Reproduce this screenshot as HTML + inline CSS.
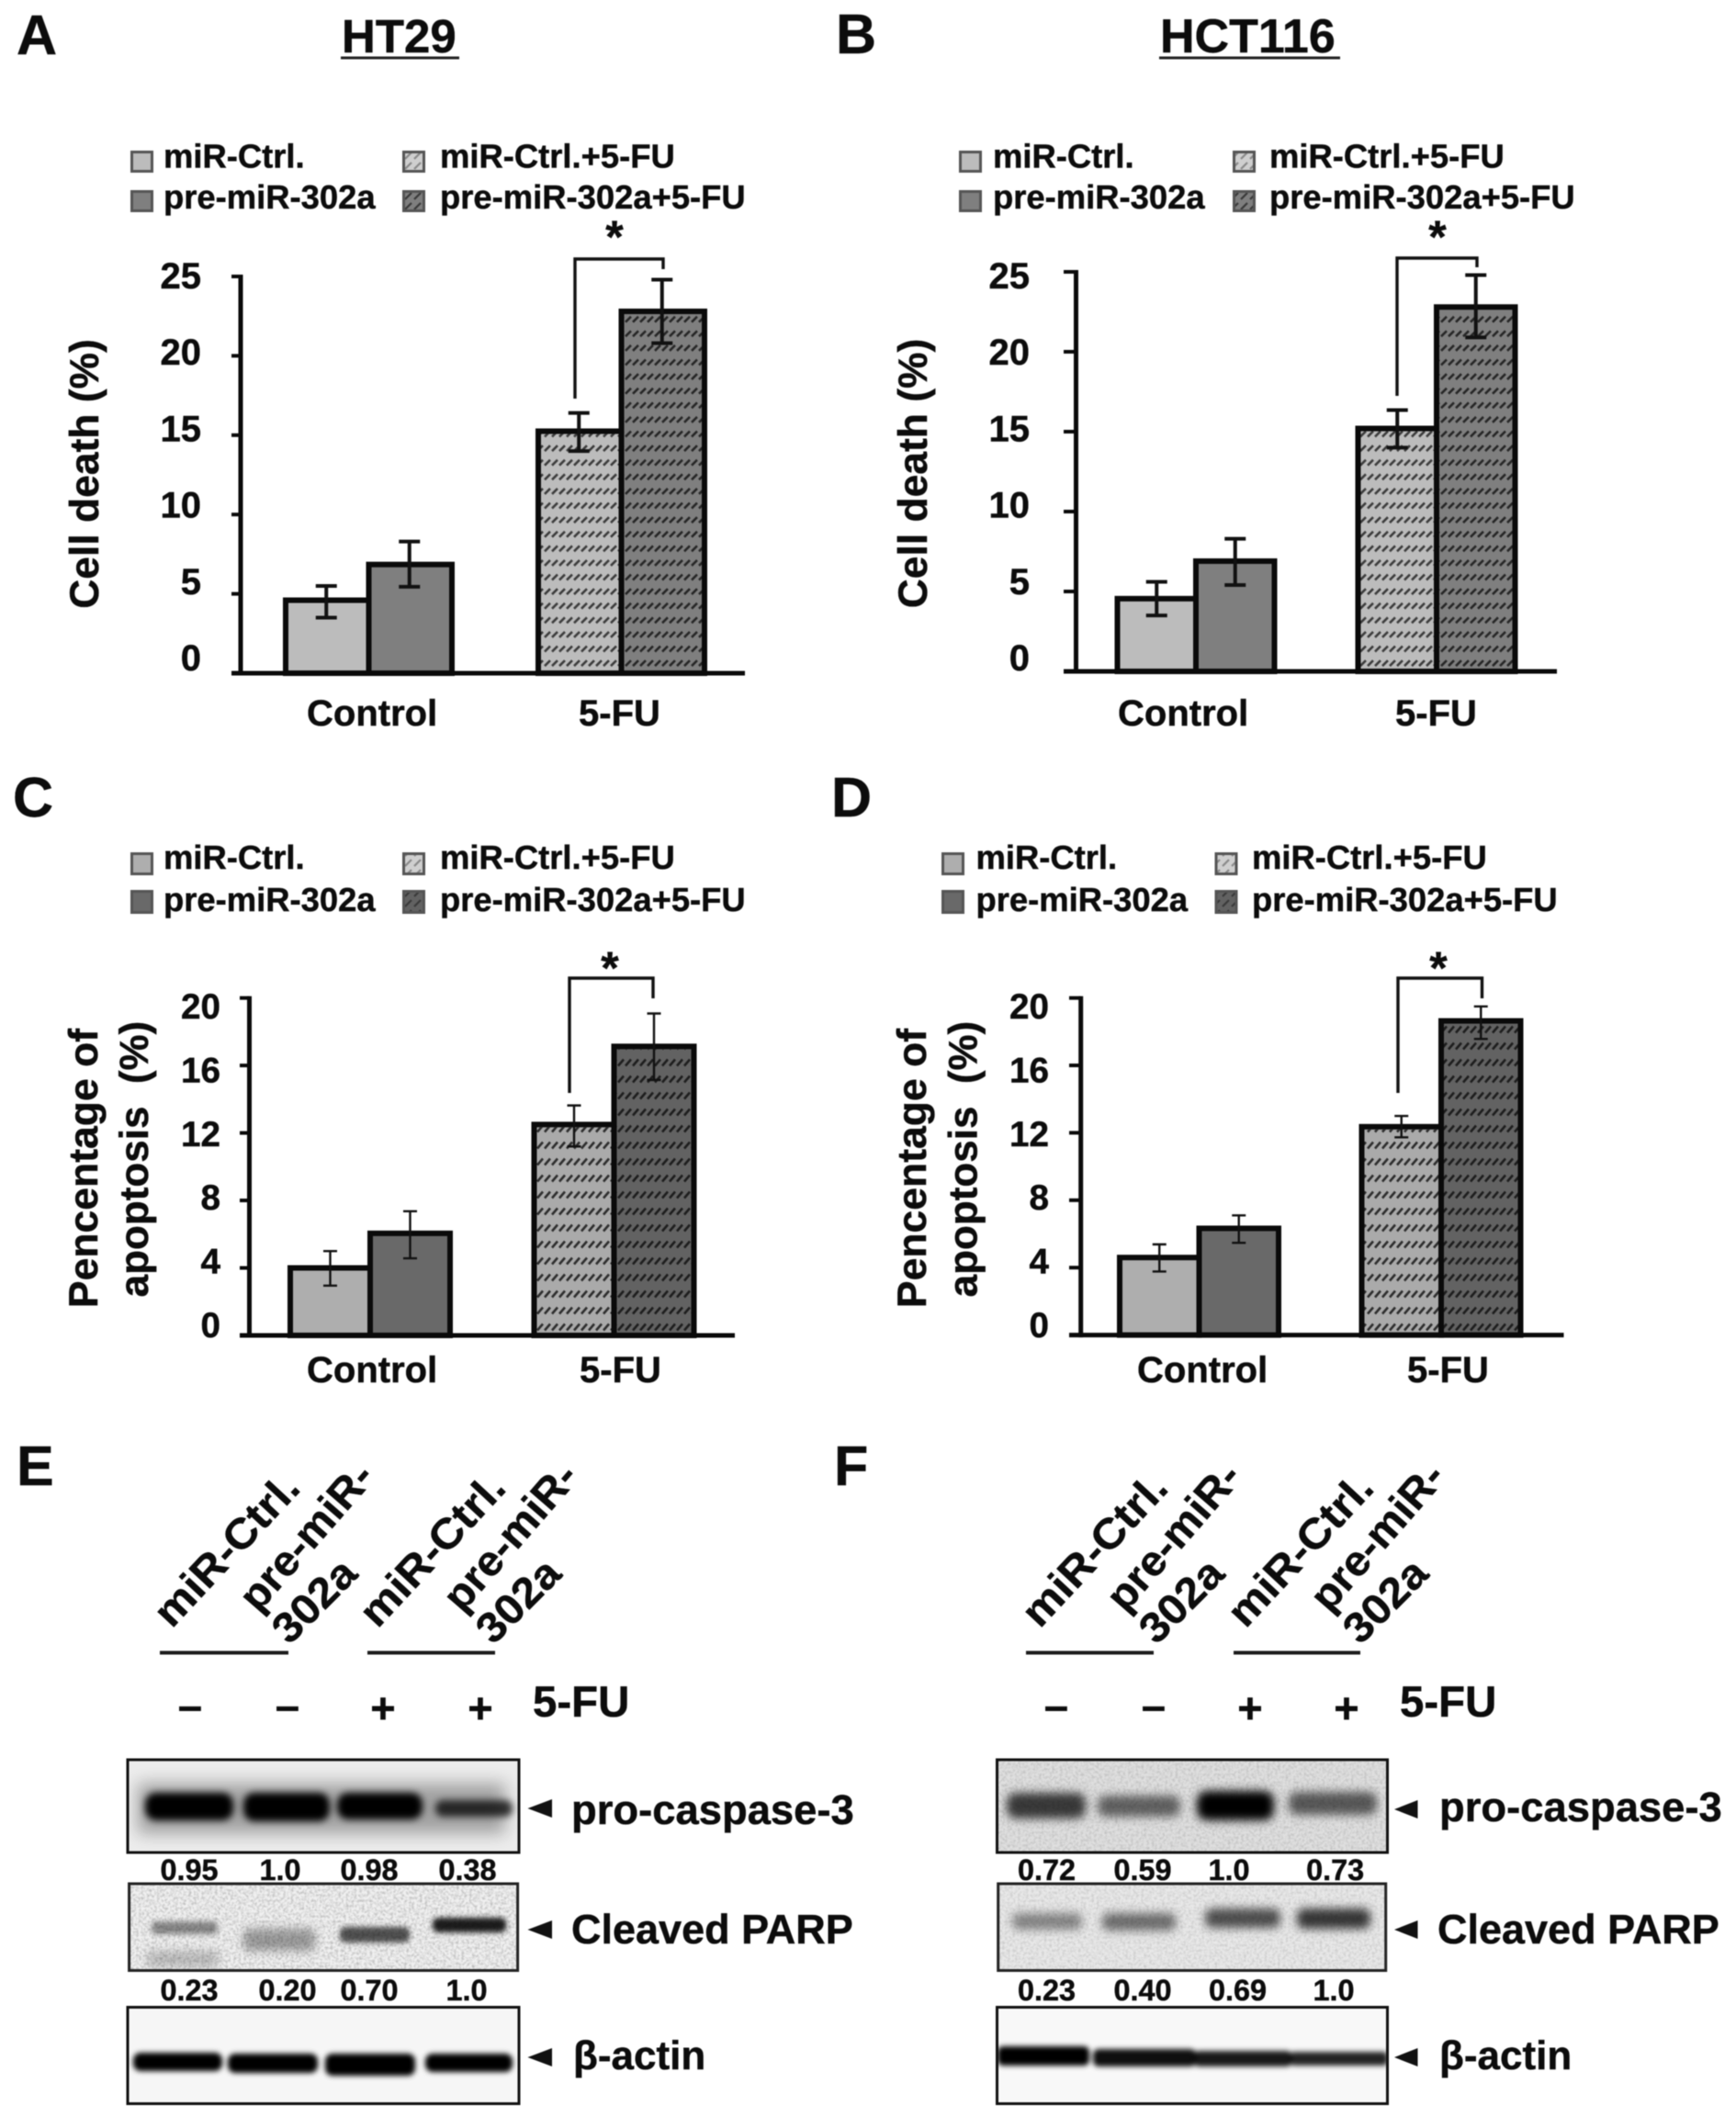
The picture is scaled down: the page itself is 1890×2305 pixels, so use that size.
<!DOCTYPE html>
<html lang="en">
<head>
<meta charset="utf-8">
<title>miR-302a cell death, apoptosis and western blot figure</title>
<style>
html,body{margin:0;padding:0;background:#fff;width:1890px;height:2305px;overflow:hidden}
svg{display:block;filter:blur(.6px)}
text{font-family:"Liberation Sans",sans-serif;font-weight:700;fill:#0c0c0c;stroke:#0c0c0c;stroke-width:.45px;text-rendering:geometricPrecision}
.w{font-size:32.4px;text-anchor:middle}
.lbl{font-size:46px}
.sign{font-size:47px;text-anchor:middle}
</style>
</head>
<body>
<svg id="fig" xmlns="http://www.w3.org/2000/svg" width="1890" height="2305" viewBox="0 0 1890 2305">
<defs>
  <pattern id="hatchLight" width="16" height="15.6" patternUnits="userSpaceOnUse"><path d="M1 7.5L7 1.5M9 7.5L15 1.5" stroke="#3c3c3c" stroke-width="2.6" fill="none"/></pattern>
  <pattern id="hatchDark" width="16" height="15.6" patternUnits="userSpaceOnUse"><path d="M1 7.5L7 1.5M9 7.5L15 1.5" stroke="#262626" stroke-width="2.6" fill="none"/></pattern>
  <pattern id="hatchLightTall" width="16" height="18" patternUnits="userSpaceOnUse"><path d="M1 8.5L7 1.5M9 8.5L15 1.5" stroke="#2e2e2e" stroke-width="2.6" fill="none"/></pattern>
  <pattern id="hatchDarkTall" width="16" height="18" patternUnits="userSpaceOnUse"><path d="M1 8.5L7 1.5M9 8.5L15 1.5" stroke="#1e1e1e" stroke-width="2.6" fill="none"/></pattern>
  <pattern id="hatchLegendLight" width="10" height="11" patternUnits="userSpaceOnUse"><path d="M1 8L8 1" stroke="#8a8a8a" stroke-width="2.2" fill="none"/></pattern>
  <pattern id="hatchLegendDark" width="10" height="11" patternUnits="userSpaceOnUse"><path d="M1 8L8 1" stroke="#3a3a3a" stroke-width="2.2" fill="none"/></pattern>
  <filter id="b9" x="-40%" y="-200%" width="180%" height="500%"><feGaussianBlur stdDeviation="9"/></filter>
  <filter id="b5" x="-30%" y="-150%" width="160%" height="400%"><feGaussianBlur stdDeviation="5"/></filter>
  <filter id="b4" x="-30%" y="-150%" width="160%" height="400%"><feGaussianBlur stdDeviation="4"/></filter>
  <filter id="b3" x="-30%" y="-150%" width="160%" height="400%"><feGaussianBlur stdDeviation="3"/></filter>
  <filter id="noise" x="0" y="0" width="100%" height="100%"><feTurbulence type="fractalNoise" baseFrequency="0.35" numOctaves="2" seed="4"/><feColorMatrix values="0 0 0 0 0  0 0 0 0 0  0 0 0 0 0  0 0 0 1.3 -.5"/></filter>
  <clipPath id="cE1"><rect x="139" y="1916" width="426" height="101"/></clipPath>
  <clipPath id="cE2"><rect x="140.6" y="2051" width="423" height="94.5"/></clipPath>
  <clipPath id="cE3"><rect x="139" y="2185.5" width="426" height="105"/></clipPath>
  <clipPath id="cF1"><rect x="1085.5" y="1916" width="425" height="101"/></clipPath>
  <clipPath id="cF2"><rect x="1086.7" y="2051" width="422" height="94.5"/></clipPath>
  <clipPath id="cF3"><rect x="1085.5" y="2185.5" width="425" height="105"/></clipPath>
</defs>

<text x="18" y="59" font-size="61">A</text>
<text x="910" y="58" font-size="61">B</text>
<text x="14" y="889" font-size="61">C</text>
<text x="905" y="889" font-size="61">D</text>
<text x="18" y="1617" font-size="61">E</text>
<text x="908" y="1617" font-size="61">F</text>

<text x="372" y="57" font-size="51">HT29</text>
<rect x="371" y="61.5" width="129" height="3" fill="#222"/>
<text x="1263" y="57" font-size="52">HCT116</text>
<rect x="1262" y="61.5" width="197" height="3" fill="#222"/>

<g id="charts"></g>

<!-- Panel E western blot -->
<g>
  <g>
    <text class="lbl" transform="translate(187 1774) rotate(-47)" textLength="208" lengthAdjust="spacingAndGlyphs">miR-Ctrl.</text>
    <text class="lbl" transform="translate(281 1757) rotate(-49)" textLength="196" lengthAdjust="spacingAndGlyphs">pre-miR-</text>
    <text class="lbl" transform="translate(315 1792) rotate(-45)" textLength="108" lengthAdjust="spacingAndGlyphs">302a</text>
    <text class="lbl" transform="translate(411 1774) rotate(-47)" textLength="208" lengthAdjust="spacingAndGlyphs">miR-Ctrl.</text>
    <text class="lbl" transform="translate(503 1757) rotate(-49)" textLength="196" lengthAdjust="spacingAndGlyphs">pre-miR-</text>
    <text class="lbl" transform="translate(537 1792) rotate(-45)" textLength="108" lengthAdjust="spacingAndGlyphs">302a</text>
  </g>
  <rect x="174" y="1797.5" width="140" height="4" fill="#1c1c1c"/>
  <rect x="400" y="1797.5" width="139" height="4" fill="#1c1c1c"/>
  <text class="sign" x="207" y="1873">–</text>
  <text class="sign" x="313" y="1873">–</text>
  <text class="sign" x="417" y="1876">+</text>
  <text class="sign" x="523" y="1876">+</text>
  <text x="580" y="1869" font-size="47.4">5-FU</text>

  <g>
    <rect x="139" y="1916" width="426" height="101" fill="#ececec"/>
    <g clip-path="url(#cE1)">
      <g filter="url(#b9)" fill="#000" opacity=".32">
        <rect x="150" y="1942" width="400" height="54"/>
      </g>
      <g filter="url(#b4)" fill="#000">
        <rect x="158" y="1952" width="96" height="30" rx="12"/>
        <rect x="265" y="1952" width="94" height="31" rx="12"/>
        <rect x="367" y="1952" width="93" height="29" rx="12"/>
        <rect x="474" y="1960" width="84" height="18" rx="8" opacity=".76"/>
      </g>
    </g>
    <rect x="139" y="1916" width="426" height="101" fill="none" stroke="#111" stroke-width="3"/>
  </g>
  <text class="w" x="206" y="2047">0.95</text><text class="w" x="305" y="2047">1.0</text><text class="w" x="402" y="2047">0.98</text><text class="w" x="509" y="2047">0.38</text>

  <g>
    <rect x="140.6" y="2051" width="423" height="94.5" fill="#f0f0f0"/>
    <rect x="140.6" y="2051" width="423" height="94.5" filter="url(#noise)" opacity=".35"/>
    <g clip-path="url(#cE2)" fill="#000">
      <rect x="165" y="2092" width="72" height="14" rx="5" opacity=".42" filter="url(#b3)"/>
      <rect x="160" y="2124" width="78" height="18" rx="5" opacity=".2" filter="url(#b5)"/>
      <rect x="265" y="2100" width="78" height="24" rx="6" opacity=".34" filter="url(#b5)"/>
      <rect x="370" y="2098" width="76" height="17" rx="6" opacity=".66" filter="url(#b3)"/>
      <rect x="471" y="2088" width="80" height="16" rx="6" opacity=".88" filter="url(#b3)"/>
    </g>
    <rect x="140.6" y="2051" width="423" height="94.5" fill="none" stroke="#222" stroke-width="3"/>
  </g>
  <text class="w" x="206" y="2178">0.23</text><text class="w" x="313" y="2178">0.20</text><text class="w" x="402" y="2178">0.70</text><text class="w" x="508" y="2178">1.0</text>

  <g>
    <rect x="139" y="2185.5" width="426" height="105" fill="#f6f6f6"/>
    <g clip-path="url(#cE3)" filter="url(#b3)" fill="#000">
      <rect x="145" y="2235" width="97" height="20" rx="8"/>
      <rect x="248" y="2236" width="98" height="21" rx="8"/>
      <rect x="354" y="2236" width="98" height="24" rx="8"/>
      <rect x="463" y="2236" width="95" height="20" rx="8"/>
    </g>
    <rect x="139" y="2185.5" width="426" height="105" fill="none" stroke="#111" stroke-width="3"/>
  </g>

  <path d="M574.5 1969L601 1959V1979Z" fill="#111"/>
  <path d="M574.5 2101L601 2091V2111Z" fill="#111"/>
  <path d="M574.5 2240L601 2230V2250Z" fill="#111"/>
  <text x="622" y="1986" font-size="45.4">pro-caspase-3</text>
  <text x="622" y="2116" font-size="45">Cleaved PARP</text>
  <text x="624" y="2253" font-size="44">β-actin</text>
</g>

<!-- Panel F western blot -->
<g>
  <g>
    <text class="lbl" transform="translate(1132 1774) rotate(-47)" textLength="208" lengthAdjust="spacingAndGlyphs">miR-Ctrl.</text>
    <text class="lbl" transform="translate(1225 1757) rotate(-49)" textLength="196" lengthAdjust="spacingAndGlyphs">pre-miR-</text>
    <text class="lbl" transform="translate(1259 1792) rotate(-45)" textLength="108" lengthAdjust="spacingAndGlyphs">302a</text>
    <text class="lbl" transform="translate(1356 1774) rotate(-47)" textLength="208" lengthAdjust="spacingAndGlyphs">miR-Ctrl.</text>
    <text class="lbl" transform="translate(1447 1757) rotate(-49)" textLength="196" lengthAdjust="spacingAndGlyphs">pre-miR-</text>
    <text class="lbl" transform="translate(1481 1792) rotate(-45)" textLength="108" lengthAdjust="spacingAndGlyphs">302a</text>
  </g>
  <rect x="1117" y="1797.5" width="139" height="4" fill="#1c1c1c"/>
  <rect x="1343" y="1797.5" width="138" height="4" fill="#1c1c1c"/>
  <text class="sign" x="1150" y="1873">–</text>
  <text class="sign" x="1256" y="1873">–</text>
  <text class="sign" x="1361" y="1876">+</text>
  <text class="sign" x="1466" y="1876">+</text>
  <text x="1524" y="1869" font-size="47.4">5-FU</text>

  <g>
    <rect x="1085.5" y="1916" width="425" height="101" fill="#dfdfdf"/>
    <rect x="1085.5" y="1916" width="425" height="101" filter="url(#noise)" opacity=".22"/>
    <g clip-path="url(#cF1)" filter="url(#b5)" fill="#000">
      <rect x="1096" y="1952" width="86" height="28" rx="10" opacity=".74"/>
      <rect x="1195" y="1955" width="90" height="23" rx="9" opacity=".56"/>
      <rect x="1303" y="1950" width="84" height="32" rx="11"/>
      <rect x="1403" y="1951" width="96" height="25" rx="9" opacity=".6"/>
    </g>
    <rect x="1085.5" y="1916" width="425" height="101" fill="none" stroke="#111" stroke-width="3"/>
  </g>
  <text class="w" x="1139.5" y="2047">0.72</text><text class="w" x="1244" y="2047">0.59</text><text class="w" x="1338" y="2047">1.0</text><text class="w" x="1453.6" y="2047">0.73</text>

  <g>
    <rect x="1086.7" y="2051" width="422" height="94.5" fill="#e8e8e8"/>
    <rect x="1086.7" y="2051" width="422" height="94.5" filter="url(#noise)" opacity=".2"/>
    <g clip-path="url(#cF2)" filter="url(#b5)" fill="#000">
      <rect x="1102" y="2083" width="76" height="18" rx="7" opacity=".42"/>
      <rect x="1200" y="2083" width="80" height="19" rx="7" opacity=".52"/>
      <rect x="1312" y="2078" width="82" height="21" rx="8" opacity=".66"/>
      <rect x="1412" y="2078" width="80" height="22" rx="8" opacity=".76"/>
    </g>
    <rect x="1086.7" y="2051" width="422" height="94.5" fill="none" stroke="#222" stroke-width="3"/>
  </g>
  <text class="w" x="1139.5" y="2178">0.23</text><text class="w" x="1244" y="2178">0.40</text><text class="w" x="1347.5" y="2178">0.69</text><text class="w" x="1452" y="2178">1.0</text>

  <g>
    <rect x="1085.5" y="2185.5" width="425" height="105" fill="#f8f8f8"/>
    <g clip-path="url(#cF3)" filter="url(#b3)" fill="#000">
      <rect x="1086" y="2228" width="100" height="21" rx="6"/>
      <rect x="1190" y="2231" width="112" height="19" rx="6" opacity=".94"/>
      <rect x="1300" y="2233" width="106" height="17" rx="5" opacity=".9"/>
      <rect x="1404" y="2234" width="107" height="15" rx="5" opacity=".86"/>
    </g>
    <rect x="1085.5" y="2185.5" width="425" height="105" fill="none" stroke="#111" stroke-width="3"/>
  </g>

  <path d="M1518 1970L1543.5 1960V1980Z" fill="#111"/>
  <path d="M1518 2101L1543.5 2091V2111Z" fill="#111"/>
  <path d="M1518 2240L1543.5 2230V2250Z" fill="#111"/>
  <text x="1567" y="1983" font-size="45.4">pro-caspase-3</text>
  <text x="1565" y="2116" font-size="45">Cleaved PARP</text>
  <text x="1567" y="2253" font-size="44">β-actin</text>
</g>
</svg>

<script>
const categories = ['Control', '5-FU'];
const seriesNames = ['miR-Ctrl.', 'pre-miR-302a', 'miR-Ctrl.+5-FU', 'pre-miR-302a+5-FU'];

const cellDeathTicks = [0, 5, 10, 15, 20, 25];
const apoptosisTicks = [0, 4, 8, 12, 16, 20];

const panelAValues = [4.6, 6.85, 15.25, 22.8];
const panelAErrHigh = [5.5, 8.3, 16.4, 24.8];
const panelAErrLow = [3.5, 5.45, 14.0, 20.8];

const panelBValues = [4.55, 6.9, 15.2, 22.8];
const panelBErrHigh = [5.6, 8.3, 16.35, 24.8];
const panelBErrLow = [3.5, 5.4, 14.0, 20.9];

const panelCValues = [4.0, 6.05, 12.5, 17.13];
const panelCErrHigh = [5.0, 7.36, 13.63, 19.08];
const panelCErrLow = [2.95, 4.57, 11.2, 15.14];

const panelDValues = [4.6, 6.33, 12.36, 18.64];
const panelDErrHigh = [5.38, 7.1, 13.0, 19.5];
const panelDErrLow = [3.77, 5.47, 11.73, 17.57];

const NS = 'http://www.w3.org/2000/svg';
const chartsRoot = document.getElementById('charts');

function mk(tag, parent, attrs) {
  const el = document.createElementNS(NS, tag);
  for (const k in attrs) el.setAttribute(k, attrs[k]);
  parent.appendChild(el);
  return el;
}

function drawPanel(p) {
  const g = mk('g', chartsRoot, {});
  
  

  const maxV = p.ticks[p.ticks.length - 1];
  const yScale = v => p.base - v * (p.base - p.top) / maxV;
  const xScale = (group, series) => p.start + group * p.step + series * p.barW;
  const labelY = v => p.labelBase - v * p.labelStep;

  // legend
  seriesNames.forEach((name, i) => {
    const col = i >> 1, row = i & 1;
    const sw = mk('rect', g, {
      x: p.legendSwatchX[col] + 1.5, y: p.legendSwatchY[row] + 1.5,
      width: 22, height: p.legendSwatchH[row] - 3,
      fill: i === 2 ? '#cfcfcf' : p.colors[i], stroke: '#555', 'stroke-width': 3
    });
    
    
    if (i >= 2) {
      const h = mk('rect', g, {
        x: p.legendSwatchX[col] + 3, y: p.legendSwatchY[row] + 3,
        width: 19, height: p.legendSwatchH[row] - 6,
        fill: i === 2 ? 'url(#hatchLegendLight)' : 'url(#hatchLegendDark)'
      });
      
      
    }
    const t = mk('text', g, { x: p.legendTextX[col], y: p.legendBase[row], 'font-size': 36.4 });
    t.textContent = name;
    
    
  });

  // bars
  p.values.forEach((v, i) => {
    const group = i >> 1, series = i & 1;
    const r = mk('rect', g, {
      x: xScale(group, series), y: yScale(v),
      width: p.barW, height: p.base - yScale(v),
      fill: p.colors[series === 0 ? (group ? 2 : 0) : (group ? 3 : 1)],
      stroke: '#0a0a0a', 'stroke-width': 6
    });
    
    
    if (group === 1) {
      const h = mk('rect', g, {
        x: xScale(group, series) + 3, y: yScale(v) + 3,
        width: p.barW - 6, height: p.base - yScale(v) - 6,
        fill: 'url(#' + (series === 0 ? p.hatch[0] : p.hatch[1]) + ')'
      });
      
      
    }
  });

  // error bars
  p.values.forEach((v, i) => {
    const cx = xScale(i >> 1, i & 1) + p.barW / 2 + p.errShift;
    const hi = yScale(p.errHigh[i]), lo = yScale(p.errLow[i]);
    const e = mk('path', g, {
      d: 'M' + cx + ' ' + hi + 'V' + lo +
         'M' + (cx - p.capHalf) + ' ' + hi + 'H' + (cx + p.capHalf) +
         'M' + (cx - p.capHalf) + ' ' + lo + 'H' + (cx + p.capHalf),
      stroke: '#111', 'stroke-width': p.errWidth, fill: 'none'
    });
    
    
  });

  // axes
  const ya = mk('line', g, { x1: p.axisX, x2: p.axisX, y1: p.top - 2, y2: p.base + 2.5, stroke: '#0a0a0a', 'stroke-width': 5 });
  
  
  const xa = mk('line', g, { x1: p.tickLeft, x2: p.xEnd, y1: p.base, y2: p.base, stroke: '#0a0a0a', 'stroke-width': 5 });
  
  

  p.ticks.forEach(v => {
    const tk = mk('line', g, { x1: p.tickLeft, x2: p.axisX, y1: yScale(v), y2: yScale(v), stroke: '#0a0a0a', 'stroke-width': 4 });
    
    
    const tl = mk('text', g, { x: p.labelRight, y: labelY(v), 'font-size': p.labelSize, 'text-anchor': 'end' });
    tl.textContent = String(v);
    
    
  });

  categories.forEach((c, i) => {
    const t = mk('text', g, { x: p.catX[i], y: p.catBase, 'font-size': 40 });
    t.textContent = c;
    
    
  });

  // y title lines
  p.yTitles.forEach(line => {
    const t = mk('text', g, {
      x: line.x, y: line.y, 'font-size': line.size, 'text-anchor': 'middle',
      transform: 'rotate(-90 ' + line.x + ' ' + line.y + ')'
    });
    t.textContent = line.text;
    
    
  });

  // significance bracket
  const b = p.bracket;
  const br = mk('path', g, {
    d: 'M' + b.x1 + ' ' + b.yLeft + 'V' + b.yTop + 'H' + b.x2 + 'V' + b.yRight,
    stroke: '#111', 'stroke-width': 3.4, fill: 'none'
  });
  
  
  const star = mk('text', g, { x: b.starX, y: b.starY, 'font-size': 50, 'text-anchor': 'middle' });
  star.textContent = '*';
  
  
}

const lightColors = ['#bcbcbc', '#7f7f7f', '#bcbcbc', '#7f7f7f'];
const darkColors = ['#aeaeae', '#696969', '#aaaaaa', '#626262'];

drawPanel({
  ticks: cellDeathTicks, values: panelAValues, errHigh: panelAErrHigh, errLow: panelAErrLow,
  top: 301, base: 733, axisX: 262, tickLeft: 252, xEnd: 811,
  start: 311, step: 275, barW: 90.5, errShift: -1, capHalf: 11.5, errWidth: 4,
  colors: lightColors, hatch: ['hatchLight', 'hatchDark'],
  labelRight: 219, labelBase: 730, labelStep: 16.64, labelSize: 40,
  catX: [334, 630], catBase: 790,
  legendSwatchX: [142, 438], legendSwatchY: [164, 207], legendSwatchH: [24, 24],
  legendTextX: [178, 479], legendBase: [182.6, 227],
  yTitles: [{ text: 'Cell death (%)', x: 107, y: 516, size: 44.4 }],
  bracket: { x1: 626, x2: 722, yLeft: 434, yTop: 282, yRight: 293, starX: 669, starY: 275 }
});

drawPanel({
  ticks: cellDeathTicks, values: panelBValues, errHigh: panelBErrHigh, errLow: panelBErrLow,
  top: 296, base: 731, axisX: 1171.5, tickLeft: 1158, xEnd: 1695,
  start: 1216.5, step: 262, barW: 85.5, errShift: 0, capHalf: 11.5, errWidth: 4,
  colors: lightColors, hatch: ['hatchLight', 'hatchDark'],
  labelRight: 1121, labelBase: 730, labelStep: 16.64, labelSize: 40,
  catX: [1217, 1519], catBase: 790,
  legendSwatchX: [1044, 1342], legendSwatchY: [164, 207], legendSwatchH: [24, 24],
  legendTextX: [1081, 1382], legendBase: [182.6, 227],
  yTitles: [{ text: 'Cell death (%)', x: 1009, y: 515.5, size: 44.4 }],
  bracket: { x1: 1521, x2: 1608, yLeft: 431, yTop: 281, yRight: 291, starX: 1565, starY: 275 }
});

drawPanel({
  ticks: apoptosisTicks, values: panelCValues, errHigh: panelCErrHigh, errLow: panelCErrLow,
  top: 1086.6, base: 1454, axisX: 271.5, tickLeft: 261, xEnd: 800,
  start: 316, step: 265.5, barW: 87, errShift: 0, capHalf: 7.5, errWidth: 2.4,
  colors: darkColors, hatch: ['hatchLightTall', 'hatchDarkTall'],
  labelRight: 240, labelBase: 1456, labelStep: 17.35, labelSize: 38.7,
  catX: [334, 631], catBase: 1505,
  legendSwatchX: [142, 438], legendSwatchY: [928, 969], legendSwatchH: [25, 26],
  legendTextX: [178, 479], legendBase: [946, 992],
  yTitles: [
    { text: 'Pencentage of', x: 106, y: 1272, size: 44.5 },
    { text: 'apoptosis\u00A0\u00A0(%)', x: 161, y: 1262, size: 44 }
  ],
  bracket: { x1: 620, x2: 711, yLeft: 1190, yTop: 1065, yRight: 1087, starX: 664, starY: 1071 }
});

drawPanel({
  ticks: apoptosisTicks, values: panelDValues, errHigh: panelDErrHigh, errLow: panelDErrLow,
  top: 1086.6, base: 1453.6, axisX: 1176.7, tickLeft: 1164, xEnd: 1702.5,
  start: 1219, step: 263.5, barW: 86.5, errShift: 0, capHalf: 7.5, errWidth: 2.4,
  colors: darkColors, hatch: ['hatchLightTall', 'hatchDarkTall'],
  labelRight: 1142, labelBase: 1456, labelStep: 17.35, labelSize: 38.7,
  catX: [1238, 1532], catBase: 1505,
  legendSwatchX: [1025, 1322.5], legendSwatchY: [928, 969], legendSwatchH: [25, 26],
  legendTextX: [1062.5, 1363], legendBase: [946, 992],
  yTitles: [
    { text: 'Pencentage of', x: 1008, y: 1272, size: 44.5 },
    { text: 'apoptosis\u00A0\u00A0(%)', x: 1063.6, y: 1262, size: 44 }
  ],
  bracket: { x1: 1522, x2: 1613.5, yLeft: 1190, yTop: 1065, yRight: 1087, starX: 1566, starY: 1071 }
});
</script>
</body>
</html>
